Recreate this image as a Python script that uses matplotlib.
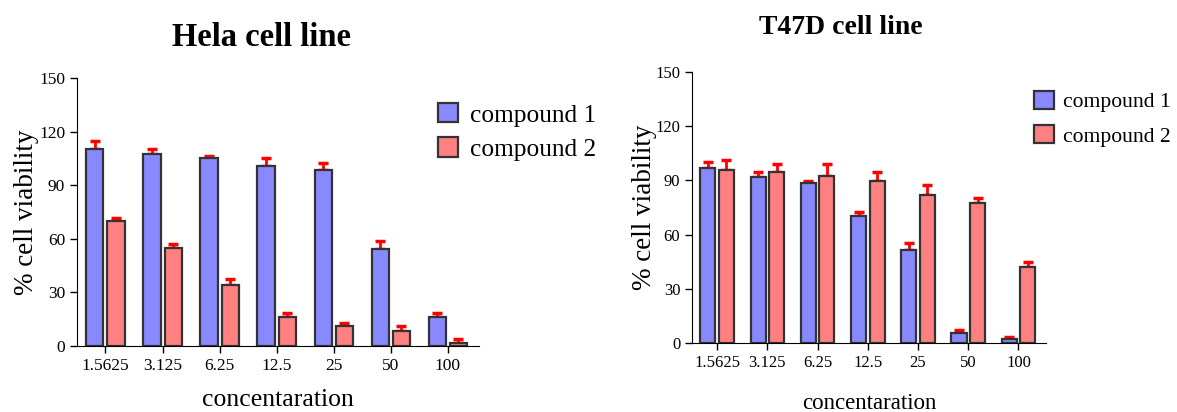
import numpy as np
import matplotlib
matplotlib.use("Agg")
import matplotlib.pyplot as plt
from matplotlib.patches import Patch

plt.rcParams["font.family"] = ["Liberation Serif", "DejaVu Serif"]

# Dados
concentrations = ["1.5625", "3.125", "6.25", "12.5", "25", "50", "100"]

hela_c1 = [110.2, 107.2, 105.0, 100.9, 98.6, 54.4, 16.4]
hela_c1_err = [4.3, 3.0, 1.3, 4.6, 3.6, 4.1, 1.9]
hela_c2 = [69.7, 55.1, 34.2, 16.4, 11.4, 8.4, 1.9]
hela_c2_err = [1.8, 1.9, 3.2, 2.3, 1.3, 2.8, 1.8]

t47d_c1 = [96.6, 91.8, 88.7, 70.2, 51.4, 5.7, 2.0]
t47d_c1_err = [3.5, 2.6, 0.7, 2.2, 4.2, 1.5, 1.3]
t47d_c2 = [95.7, 94.4, 92.2, 89.4, 81.7, 77.4, 41.8]
t47d_c2_err = [5.5, 4.4, 6.8, 5.0, 5.7, 3.1, 3.3]

BLUE = "#8888ff"
RED = "#ff8080"
EDGE = "#333333"


def draw_panel(ax, c1, c1_err, c2, c2_err, tick_fs, xlabel_fs, ypad, xpad):
    x = np.arange(len(concentrations))
    off, w = 0.185, 0.30
    ax.bar(x - off, c1, w, color=BLUE, edgecolor=EDGE, linewidth=1.6, zorder=2)
    ax.bar(x + off, c2, w, color=RED, edgecolor=EDGE, linewidth=1.6, zorder=2)
    for xs, vals, errs in [(x - off, c1, c1_err), (x + off, c2, c2_err)]:
        ax.errorbar(xs, vals, yerr=[np.zeros(len(errs)), errs], fmt="none",
                    ecolor="red", elinewidth=2, capsize=3.5, capthick=2.5, zorder=1)
    ax.set_xlim(-0.5, 6.55)
    ax.set_ylim(0, 150)
    ax.set_yticks([0, 30, 60, 90, 120, 150])
    ax.set_xticks(x)
    ax.set_xticklabels(concentrations)
    ax.tick_params(labelsize=tick_fs, length=5, width=1)
    ax.spines["top"].set_visible(False)
    ax.spines["right"].set_visible(False)
    ax.set_ylabel("% cell viability", fontsize=19.5, labelpad=ypad)
    ax.set_xlabel("concentaration", fontsize=xlabel_fs, labelpad=xpad)


fig = plt.figure(figsize=(11.77, 4.12), dpi=100)
ax1 = fig.add_axes([0.0654, 0.1602, 0.3416, 0.6505])
ax2 = fig.add_axes([0.588, 0.1675, 0.3008, 0.6578])

draw_panel(ax1, hela_c1, hela_c1_err, hela_c2, hela_c2_err, 12.5, 18.5, 0, 11)
draw_panel(ax2, t47d_c1, t47d_c1_err, t47d_c2, t47d_c2_err, 12, 16.5, -1, 16)

fig.text(262 / 1177, 1 - 38 / 412, "Hela cell line", ha="center", va="center",
         fontsize=23.5, fontweight="bold")
fig.text(841 / 1177, 1 - 27 / 412, "T47D cell line", ha="center", va="center",
         fontsize=20, fontweight="bold")

handles = [Patch(facecolor=BLUE, edgecolor=EDGE, linewidth=1.6, label="compound 1"),
           Patch(facecolor=RED, edgecolor=EDGE, linewidth=1.6, label="compound 2")]
fig.legend(handles=handles, loc="upper left", bbox_to_anchor=(438 / 1177, 1 - 103 / 412),
           frameon=False, fontsize=18.3, handlelength=0.8, handleheight=0.8,
           handletextpad=0.45, labelspacing=0.42, borderpad=0, borderaxespad=0)
fig.legend(handles=handles, loc="upper left", bbox_to_anchor=(1034 / 1177, 1 - 91 / 412),
           frameon=False, fontsize=15.6, handlelength=0.9, handleheight=0.9,
           handletextpad=0.45, labelspacing=0.6, borderpad=0, borderaxespad=0)

fig.savefig("out.png", dpi=100)
